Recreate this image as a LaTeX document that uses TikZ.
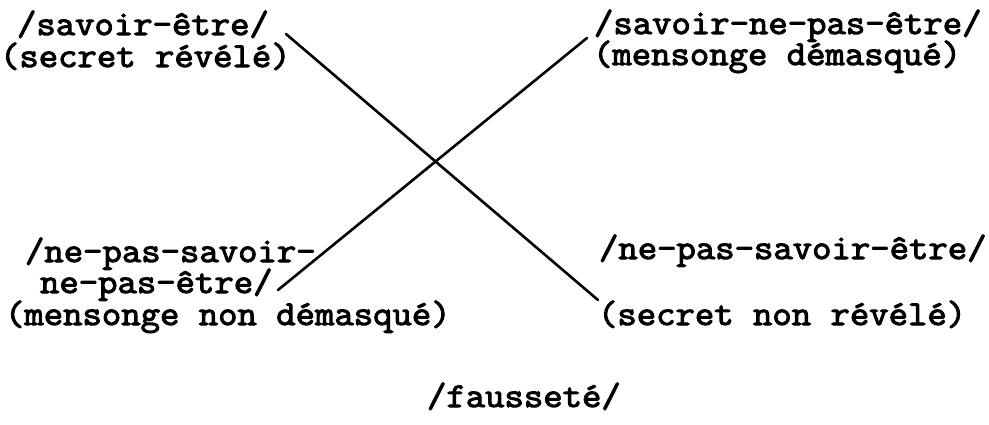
\documentclass[tikz,border=0pt]{standalone}
\usepackage{fontspec}
\newfontfamily\courfont{Latin Modern Mono}[FakeBold=3,FakeStretch=1.075]
\begin{document}
\begin{tikzpicture}[x=1pt,y=-1pt,
  lbl/.style={anchor=base west,inner sep=0pt,outer sep=0pt,text height=0.64em,text depth=0.2em,font=\courfont\fontsize{35}{36}\selectfont},
  conn/.style={line width=2.6pt,line cap=round}]
\useasboundingbox[fill=white] (0,0) rectangle (989,425);
% top left
\node[lbl] (a1) at (17,35) {/savoir-être/};
\node[lbl] (a2) at (0,67) {(secret révélé)};
% top right
\node[lbl] (b1) at (594,34) {/savoir-ne-pas-être/};
\node[lbl] (b2) at (593,65) {(mensonge démasqué)};
% bottom left
\node[lbl] (c1) at (25,262) {/ne-pas-savoir-};
\node[lbl] (c2) at (40,293) {ne-pas-être/};
\node[lbl] (c3) at (5,325) {(mensonge non démasqué)};
% bottom right
\node[lbl] (d1) at (599,259) {/ne-pas-savoir-être/};
\node[lbl] (d2) at (598,325) {(secret non révélé)};
% bottom
\node[lbl] (e) at (427,407) {/fausseté/};
% connector ends
\coordinate (p1) at (286,34);
\coordinate (p2) at (598,300);
\coordinate (q1) at (587,38);
\coordinate (q2) at (278,290);
\draw[conn] (p1) -- (p2);
\draw[conn] (q1) -- (q2);
\end{tikzpicture}
\end{document}
